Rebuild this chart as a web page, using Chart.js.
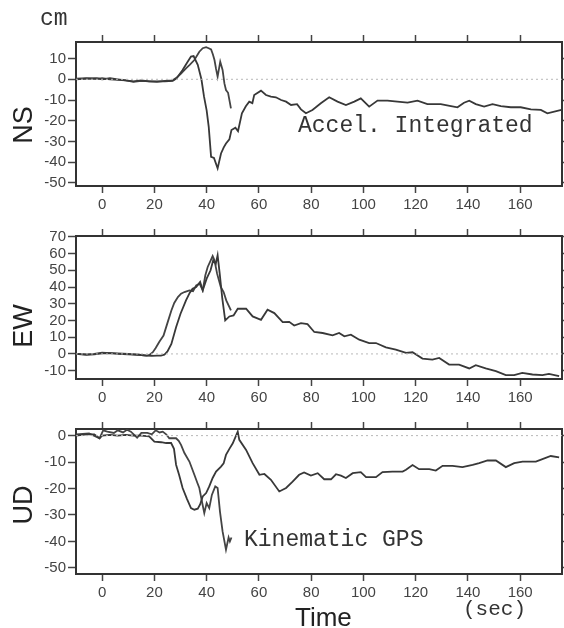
<!DOCTYPE html>
<html>
<head>
<meta charset="utf-8">
<script src="https://cdn.jsdelivr.net/npm/chart.js@4/dist/chart.umd.min.js"></script>
<style>
  body { margin: 0; background: #fff; }
  #wrap { position: relative; width: 564px; height: 628px; overflow: hidden; background: #fff; }
  canvas { position: absolute; left: 0; }
  .txt { position: absolute; white-space: nowrap; line-height: 1; color: #333; }
  .mono { font-family: "Liberation Mono", "DejaVu Sans Mono", monospace; }
  .sans { font-family: "Liberation Sans", Arial, sans-serif; }
  .rot { transform: translate(-50%, -50%) rotate(-90deg); }
</style>
</head>
<body>
<div id="wrap">
  <canvas id="nsChart" width="564" height="184" style="top:30px"></canvas>
  <canvas id="ewChart" width="564" height="183" style="top:224px"></canvas>
  <canvas id="udChart" width="564" height="185" style="top:417px"></canvas>

  <div class="txt mono" style="left:40px; top:8px; font-size:23px;">cm</div>
  <div class="txt mono" style="left:298px; top:115px; font-size:23px;">Accel. Integrated</div>
  <div class="txt mono" style="left:244px; top:529px; font-size:23px;">Kinematic GPS</div>
  <div class="txt mono" style="left:463px; top:599px; font-size:21px;">(sec)</div>
  <div class="txt sans" style="left:295px; top:604px; font-size:26px; color:#222;">Time</div>
  <div class="txt sans rot" style="left:23px; top:125px; font-size:27px; color:#222;">NS</div>
  <div class="txt sans rot" style="left:23px; top:326px; font-size:27px; color:#222;">EW</div>
  <div class="txt sans rot" style="left:23px; top:505px; font-size:27px; color:#222;">UD</div>
</div>

<script>
// time axis
const xMin = -10;
const xMax = 176;
const xTicks = [0, 20, 40, 60, 80, 100, 120, 140, 160];

// y ticks per component
const nsTicks = [-50, -40, -30, -20, -10, 0, 10];
const ewTicks = [-10, 0, 10, 20, 30, 40, 50, 60, 70];
const udTicks = [-50, -40, -30, -20, -10, 0];

// [time (s), displacement (cm)]
const nsAccel = [[-10, 0], [-6, 0.3], [-2, 0.5], [0, 0], [3, 0.5], [6, 0], [9, -0.5], [12, -1], [15, -0.5], [18, -1],
  [21, -1], [24, -1], [27, -0.8], [28.5, 0.5], [30.8, 4.5], [32.5, 8], [34, 11], [35, 11.2], [36.6, 7], [38, 0],
  [39, -8.4], [40, -15], [40.8, -23], [41.7, -37.4], [42.8, -38], [44.2, -43], [45.5, -35.8], [46.5, -33], [47.4, -31],
  [48.7, -29], [49.5, -24.5], [51, -23.4], [52, -25], [53.5, -16.4], [55, -13], [56.3, -10.8], [57.5, -11.5],
  [58.2, -7.6], [60.8, -5.5], [62.7, -7.6], [64.6, -8.4], [66.5, -8.7], [68.5, -10], [70.4, -10.8], [72.3, -12.4],
  [74.6, -12], [76.1, -14.5], [78, -16.4], [80.5, -14.8], [83.7, -11.6], [86.9, -8.7], [90.1, -10.8], [93.3, -12.4],
  [96.5, -10.8], [99, -9.2], [102.2, -13.2], [105.4, -10.3], [109.2, -10.3], [113, -10.8], [116.9, -11.3],
  [120.7, -10.3], [124.5, -12], [129.6, -12], [133.5, -12.9], [136, -13.5], [138.5, -11.3], [140.5, -10.3],
  [143, -12], [146.2, -13.2], [149.4, -12], [152.6, -12.9], [156.4, -13.5], [160.2, -13.5], [164.1, -14.5],
  [167.9, -14.8], [170.4, -16.4], [174.2, -15.2], [175.8, -14.8]];
const nsGps = [[-10, 0.3], [-6, 0.5], [-2, 0.2], [0, 0.5], [3, 0], [6, -0.3], [9, -0.5], [12, -1.2], [15, -0.8], [18, -1],
  [21, -1.2], [24, -0.8], [27, -0.5], [28.3, 0.6], [30, 2.5], [32.1, 5.3], [33.5, 7], [35.3, 9.3], [37.2, 13.3],
  [38.5, 15], [39.8, 15.5], [40.8, 15], [41.7, 14.4], [42.4, 12], [43, 9.3], [43.6, 5], [44.2, 1.3], [45.2, 8.5],
  [46.1, 4.5], [46.8, -2], [47.4, -5.2], [48.2, -6.5], [49.3, -14]];

const ewAccel = [[-10, 0], [-6, -0.5], [-3, -0.3], [0, 0.3], [3, 0.5], [6, 0], [10, -0.3], [14, -0.5], [17, -1],
  [19, -1.2], [21, -1], [22.5, -1], [23.8, -0.5], [25, 1.5], [26.5, 6], [28.3, 16], [30, 24], [32.1, 32], [33.5, 36.5],
  [34.6, 39], [36, 40], [37.5, 43], [38.5, 38], [40, 45], [41.5, 50], [42.5, 56], [43.5, 54], [44.2, 59], [45, 48],
  [46, 33], [47.1, 20], [48.7, 22.4], [50.3, 23], [51.9, 27], [55.1, 27], [57.6, 22.4], [60.8, 20.4], [63.3, 26.4],
  [65.9, 24.4], [69.1, 19], [71.6, 19.2], [73.5, 17], [76.1, 18.4], [78.6, 17.8], [81.2, 13.1], [84.4, 12.5],
  [88.2, 11.1], [90.7, 12.5], [92.7, 10.5], [95.2, 11.5], [98.4, 8.5], [102.2, 6.5], [104.8, 6.5], [108.6, 3.9],
  [112.4, 2.6], [116.3, 0.6], [118.8, 1], [122.6, -2.8], [126.4, -3.4], [129, -2.4], [132.8, -6.4], [136.6, -6.4],
  [140.5, -8.7], [143, -6.7], [146.8, -8.7], [150.7, -10.3], [154.5, -12.7], [157.7, -12.7], [160.8, -11.3],
  [164.7, -12.3], [168.5, -12.7], [171, -11.9], [174.9, -13.3]];
const ewGps = [[-10, 0], [-6, -0.3], [-3, 0], [0, 0.8], [3, 0.5], [6, 0.3], [10, 0], [14, -0.5], [17, -1], [18.1, -0.6],
  [19.4, 1], [20.5, 3.5], [21.9, 7.3], [23.5, 11], [25.1, 19], [26.5, 26], [27.6, 30.5], [29, 34], [30.2, 36],
  [31.5, 37], [33.4, 38], [34.8, 37.5], [36, 41], [37.3, 42], [38.5, 38], [39.5, 47], [40.4, 52], [41.3, 55],
  [42.3, 58.5], [43, 56], [44, 48], [45.4, 40], [46.5, 37], [47.5, 32], [49.3, 26]];

const udAccel = [[-10, 0], [-6, 0.5], [-3, 0.5], [-1, -1], [0, 0], [3, 0.3], [6, 0], [9, 0.3], [12, 0], [15, 0], [18, -0.3],
  [20, -2.3], [22.6, -2.5], [24.5, -2.8], [26.4, -2.8], [27.5, -5], [28.3, -11], [29.5, -15], [30.8, -19.8], [32.5, -24],
  [34, -27.4], [35.3, -28], [36.6, -27.6], [37.5, -26], [38.5, -23], [39.8, -21.7], [41, -19.2], [42.3, -16],
  [43.6, -13.6], [45.5, -11.7], [46.5, -10.5], [47.4, -7.3], [48.7, -5], [50, -2.9], [51.9, 1.5], [52.5, -1.6],
  [55.1, -5.4], [57.6, -10.4], [60.2, -14.8], [62.1, -14.5], [64.6, -16.7], [67.8, -21.1], [70.4, -19.8],
  [72.9, -17.4], [75.4, -14.8], [77.3, -13.9], [79.9, -15.1], [82.5, -14.2], [85, -16.5], [87.6, -16.5],
  [89.5, -14.6], [91.4, -15.1], [93.3, -16], [95.9, -14.2], [99, -13.8], [101, -15.7], [104.8, -15.7], [107.3, -13.8],
  [111.1, -13.6], [115, -13.6], [116.3, -12.9], [118.8, -11.1], [121.3, -12.7], [125.2, -12.7], [127.7, -13.2],
  [130.3, -11.4], [134.1, -11.4], [137.9, -11.9], [141.8, -11.1], [144.3, -10.4], [147.5, -9.4], [150.7, -9.4],
  [154.5, -11.9], [157.7, -10.4], [160.9, -9.8], [166, -9.8], [168.5, -8.9], [171.7, -7.7], [174.9, -8.2]];
const udGps = [[-10, 0.5], [-5, 0.8], [-1, -1], [0.4, 2], [2, 1.5], [4.5, 1], [6, 2], [8, 1.2], [9.5, 2.2], [11, 1.5],
  [13.4, -0.8], [15, 1], [17.3, 1], [19, 0.5], [20.5, 2], [22, 1.2], [23.2, 1.5], [24.5, 0.5], [25.7, -1], [28.3, -1],
  [29.3, -2], [30.2, -3.5], [31.5, -6.6], [33.4, -9.8], [35.3, -14.8], [36.5, -18], [37.2, -19.8], [38.2, -24.9],
  [39.1, -29.3], [40, -25.5], [41, -27.4], [42, -22.4], [43.3, -19.2], [44.2, -19.8], [45.1, -28.7], [46.1, -36.2],
  [47.4, -43.1], [48.4, -38.5], [48.9, -40], [49.5, -38.5]];

const frameColor = '#333';
const tickFont = { family: '"Liberation Sans", Arial, sans-serif', size: 15 };

function toPoints(arr) {
    return arr.map(p => ({ x: p[0], y: p[1] }));
}

function setTicks(list) {
    return scale => { scale.ticks = list.map(v => ({ value: v })); };
}

function axis(pos, min, max, list, size, showLabels) {
    const horizontal = pos === 'top' || pos === 'bottom';
    return {
        type: 'linear',
        position: pos,
        min: min,
        max: max,
        afterBuildTicks: setTicks(list),
        afterFit: scale => {
            if (horizontal) scale.height = size; else scale.width = size;
        },
        grid: {
            display: true,
            drawOnChartArea: false,
            drawTicks: true,
            tickLength: horizontal ? 7 : 8,
            tickColor: '#444',
            tickWidth: 1.5
        },
        border: { display: true, color: frameColor, width: 2 },
        ticks: {
            display: showLabels,
            font: tickFont,
            color: '#444',
            padding: horizontal ? 3 : 2,
            maxRotation: 0,
            autoSkip: false
        }
    };
}

function makePanel(id, accel, gps, yMin, yMax, yTicks) {
    new Chart(document.getElementById(id), {
        type: 'line',
        data: {
            datasets: [{
                data: [{ x: xMin, y: 0 }, { x: xMax, y: 0 }],
                borderColor: '#b8b8b8',
                borderWidth: 1,
                borderDash: [2, 3],
                pointRadius: 0
            }, {
                label: 'Accel. Integrated',
                data: toPoints(accel),
                borderColor: '#383838',
                borderWidth: 1.8,
                pointRadius: 0,
                tension: 0
            }, {
                label: 'Kinematic GPS',
                data: toPoints(gps),
                borderColor: '#444',
                borderWidth: 1.8,
                pointRadius: 0,
                tension: 0
            }]
        },
        options: {
            responsive: false,
            animation: false,
            layout: { padding: 0, autoPadding: false },
            plugins: { legend: { display: false }, tooltip: { enabled: false } },
            scales: {
                x: axis('bottom', xMin, xMax, xTicks, 28, true),
                x2: axis('top', xMin, xMax, xTicks, 12, false),
                y: axis('left', yMin, yMax, yTicks, 76, true),
                y2: axis('right', yMin, yMax, yTicks, 2, false)
            }
        }
    });
}

makePanel('nsChart', nsAccel, nsGps, -51.5, 18, nsTicks);
makePanel('ewChart', ewAccel, ewGps, -15, 70.5, ewTicks);
makePanel('udChart', udAccel, udGps, -52.3, 2.5, udTicks);
</script>
</body>
</html>
